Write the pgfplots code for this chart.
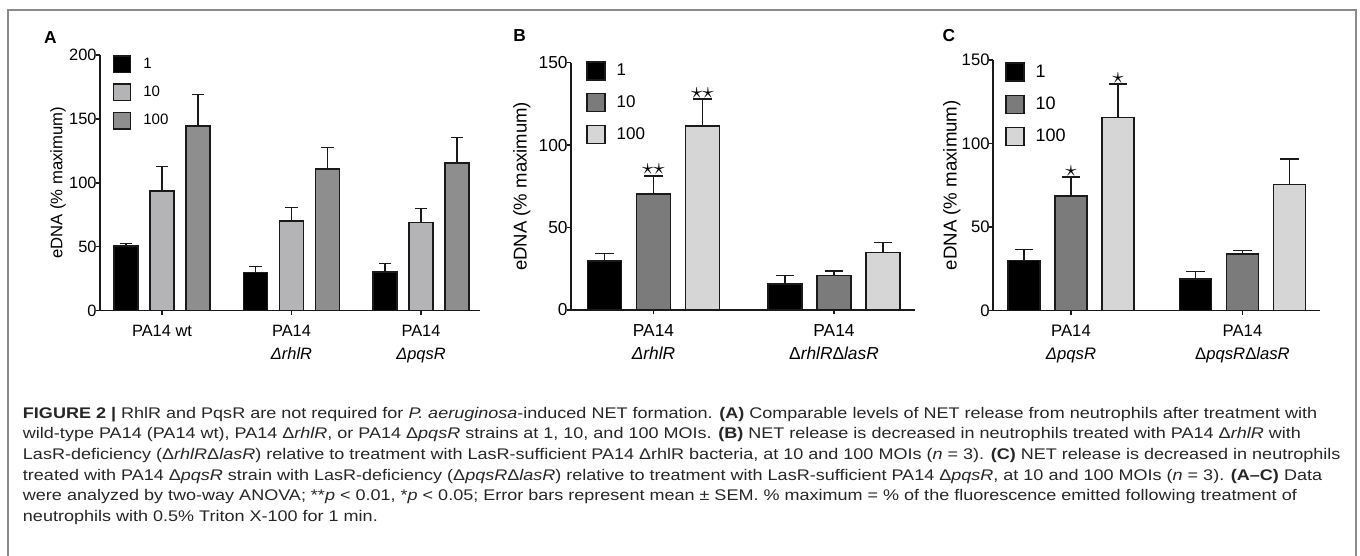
\documentclass[border=0pt]{standalone}
\usepackage{pgfplots}
\pgfplotsset{compat=1.18}
\usepackage{fontspec}
\setmainfont{Liberation Sans}
\newfontfamily\capfont[FakeStretch=1.17]{Liberation Sans}

\definecolor{aten}{HTML}{B4B4B6}
\definecolor{ahun}{HTML}{8E8E8E}
\definecolor{bten}{HTML}{7B7B7B}
\definecolor{bhun}{HTML}{D6D6D6}
\definecolor{edge}{HTML}{1A1A1A}
\definecolor{frame}{HTML}{8A8A8A}

\pgfplotsset{
  sqsize/.initial=12.5pt,
  panel/.style={
    scale only axis, anchor=south west, clip=false,
    axis lines=left, axis line style={-, line width=1.3pt, edge},
    tick align=outside, major tick length=3.2pt,
    tick style={line width=1.2pt, edge},
    ymin=0,
    /pgf/number format/assume math mode=true,
    yticklabel style={inner sep=0.2pt, xshift=1pt},
    xticklabel style={align=center, yshift=-4pt,
      execute at begin node={\baselineskip=17.5pt}},
    every axis y label/.style={rotate=90, anchor=center},
    legend cell align=left,
  },
  bars/.style={ybar, bar shift=0pt, draw=edge, line width=1.1pt, fill=#1,
    error bars/.cd, y dir=plus, y explicit,
    error bar style={line width=1.1pt, edge},
    /pgfplots/legend image code/.code={%
      \draw[fill=#1, draw=edge, line width=1pt]
        (0pt,{-0.5*\pgfkeysvalueof{/pgfplots/sqsize}}) rectangle
        (\pgfkeysvalueof{/pgfplots/sqsize},{0.5*\pgfkeysvalueof{/pgfplots/sqsize}});}},
  stars/.style={ybar, bar shift=0pt, draw=none, fill=none, forget plot,
    nodes near coords, point meta=explicit symbolic,
    nodes near coords style={anchor=south, inner sep=0.5pt, font=\fontsize{17}{17}\selectfont}},
}

\begin{document}
\begin{tikzpicture}
\useasboundingbox (0pt,0pt) rectangle (1020pt,-417pt);

% ---------------- A ----------------
\begin{axis}[panel, at={(75pt,-232.875pt)}, width=285pt, height=191.625pt,
  xmin=-0.4788, xmax=2.4556, ymax=200, ytick={0,50,100,150,200},
  xtick={0,1,2},
  xticklabels={PA14 wt, {PA14\\\textit{ΔrhlR}}, {PA14\\\textit{ΔpqsR}}},
  ticklabel style={font=\fontsize{12.3}{17.5}\selectfont},
  bar width=0.185, sqsize=12.5pt,
  error bars/error mark options={rotate=90, edge, line width=1.1pt, mark size=4.6pt},
  ylabel={eDNA (\% maximum)},
  ylabel style={at={(axis description cs:-0.1105,0.5)}, font=\fontsize{12.5}{12.5}\selectfont},
  legend style={draw=none, fill=none, at={(axis description cs:0.0334,1)}, anchor=north west,
    inner sep=0pt, row sep=7.6pt, font=\fontsize{11.3}{11.3}\selectfont,
    /tikz/every odd column/.append style={column sep=7.3pt}},
]
\addplot[bars=black] coordinates {(-0.278,50.5) +- (0,1.8) (0.722,29.6) +- (0,4.7) (1.722,30.1) +- (0,6.5)};
\addplot[bars=aten] coordinates {(0,93.5) +- (0,19.1) (1,70.1) +- (0,10.7) (2,68.7) +- (0,11.3)};
\addplot[bars=ahun] coordinates {(0.278,144.4) +- (0,24.5) (1.278,110.8) +- (0,16.6) (2.278,115.5) +- (0,20.1)};
\legend{1,10,100}
\end{axis}

% ---------------- B ----------------
\begin{axis}[panel, at={(428.25pt,-232.5pt)}, width=258pt, height=185.475pt,
  xmin=-0.457, xmax=1.4488, ymax=150, ytick={0,50,100,150},
  xtick={0,1},
  xticklabels={{PA14\\\textit{ΔrhlR}}, {PA14\\Δ\textit{rhlR}Δ\textit{lasR}}},
  ticklabel style={font=\fontsize{13}{17.5}\selectfont},
  bar width=0.188, sqsize=13.5pt,
  error bars/error mark options={rotate=90, edge, line width=1.1pt, mark size=6.9pt},
  ylabel={eDNA (\% maximum)},
  ylabel style={at={(axis description cs:-0.1433,0.5)}, font=\fontsize{13.9}{13.9}\selectfont},
  legend style={draw=none, fill=none, at={(axis description cs:0.0436,1.007)}, anchor=north west,
    inner sep=0pt, row sep=9.3pt, font=\fontsize{12.75}{12.75}\selectfont,
    /tikz/every odd column/.append style={column sep=6.3pt}},
]
\addplot[bars=black] coordinates {(-0.2715,29.7) +- (0,4.7) (0.7285,15.8) +- (0,5.0)};
\addplot[bars=bten] coordinates {(0,70.3) +- (0,11.1) (1,20.8) +- (0,2.9)};
\addplot[bars=bhun] coordinates {(0.2715,111.6) +- (0,16.4) (1.2715,35.0) +- (0,6.0)};
\addplot[stars] coordinates {(0,81.4) [$\star\star$] (0.2715,128) [$\star\star$]};
\legend{1,10,100}
\end{axis}

% ---------------- C ----------------
\begin{axis}[panel, at={(744.75pt,-232.875pt)}, width=245.25pt, height=187.875pt,
  xmin=-0.4548, xmax=1.452, ymax=150, ytick={0,50,100,150},
  xtick={0,1},
  xticklabels={{PA14\\\textit{ΔpqsR}}, {PA14\\Δ\textit{pqsR}Δ\textit{lasR}}},
  ticklabel style={font=\fontsize{12.5}{17.5}\selectfont},
  bar width=0.1866, sqsize=13.5pt,
  error bars/error mark options={rotate=90, edge, line width=1.1pt, mark size=7pt},
  ylabel={eDNA (\% maximum)},
  ylabel style={at={(axis description cs:-0.1263,0.5)}, font=\fontsize{14}{14}\selectfont},
  legend style={draw=none, fill=none, at={(axis description cs:0.0367,0.992)}, anchor=north west,
    inner sep=0pt, row sep=9.2pt, font=\fontsize{13.5}{13.5}\selectfont,
    /tikz/every odd column/.append style={column sep=6.3pt}},
]
\addplot[bars=black] coordinates {(-0.274,30.1) +- (0,6.5) (0.726,19.0) +- (0,4.2)};
\addplot[bars=bten] coordinates {(0,68.6) +- (0,11.3) (1,33.8) +- (0,2.2)};
\addplot[bars=bhun] coordinates {(0.274,115.7) +- (0,19.9) (1.274,75.6) +- (0,15.1)};
\addplot[stars] coordinates {(0,79.9) [$\star$] (0.274,135.6) [$\star$]};
\legend{1,10,100}
\end{axis}

% ---------------- frame, letters, caption ----------------
\begin{scope}[x=0.75pt,y=-0.75pt]
\draw[line width=1.5pt, frame] (7.5,560) -- (7.5,10) -- (1355.5,10) -- (1355.5,560);
\node[font=\bfseries\fontsize{13}{13}\selectfont] at (50.3,37.5) {A};
\node[font=\bfseries\fontsize{13}{13}\selectfont] at (519.7,36) {B};
\node[font=\bfseries\fontsize{13}{13}\selectfont] at (948.8,36) {C};
\begin{scope}[every node/.style={anchor=base west, inner sep=0pt, font=\capfont\fontsize{11.55}{15.45}\selectfont, color=black!85}]
\node at (22.7,418.3) {\textbf{FIGURE 2 |} RhlR and PqsR are not required for \textit{P. aeruginosa}-induced NET formation. \textbf{(A)} Comparable levels of NET release from neutrophils after treatment with};
\node at (22.7,438.9) {wild-type PA14 (PA14 wt), PA14 Δ\textit{rhlR}, or PA14 Δ\textit{pqsR} strains at 1, 10, and 100 MOIs. \textbf{(B)} NET release is decreased in neutrophils treated with PA14 Δ\textit{rhlR} with};
\node at (22.7,459.5) {LasR-deficiency (Δ\textit{rhlR}Δ\textit{lasR}) relative to treatment with LasR-sufficient PA14 ΔrhlR bacteria, at 10 and 100 MOIs (\textit{n} = 3). \textbf{(C)} NET release is decreased in neutrophils};
\node at (22.7,480.1) {treated with PA14 Δ\textit{pqsR} strain with LasR-deficiency (Δ\textit{pqsR}Δ\textit{lasR}) relative to treatment with LasR-sufficient PA14 Δ\textit{pqsR}, at 10 and 100 MOIs (\textit{n} = 3). \textbf{(A–C)} Data};
\node at (22.7,500.7) {were analyzed by two-way ANOVA; **\textit{p} < 0.01, *\textit{p} < 0.05; Error bars represent mean ± SEM. \% maximum = \% of the fluorescence emitted following treatment of};
\node at (22.7,521.3) {neutrophils with 0.5\% Triton X-100 for 1 min.};
\end{scope}
\end{scope}
\end{tikzpicture}
\end{document}
